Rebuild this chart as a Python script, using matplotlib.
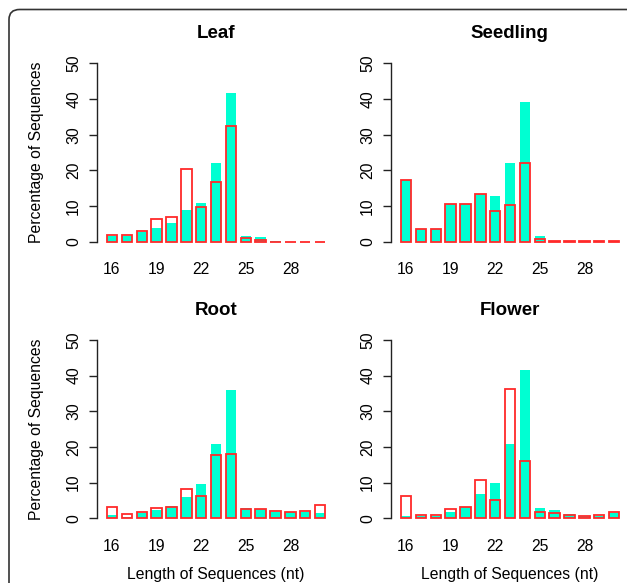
import matplotlib
matplotlib.use("Agg")
import matplotlib.pyplot as plt
from matplotlib.patches import FancyBboxPatch

plt.rcParams['font.family'] = ['Liberation Sans', 'DejaVu Sans']

lengths = list(range(16, 31))
tick_vals = [16, 19, 22, 25, 28]

leaf_cyan = [1.7, 1.7, 2.7, 3.9, 5.3, 8.9, 10.9, 22.2, 41.7, 1.6, 1.2, 0.1, 0.05, 0.05, 0.05]
leaf_red = [2.0, 1.9, 3.1, 6.4, 7.0, 20.3, 9.8, 16.8, 32.4, 0.9, 0.6, 0.05, 0.05, 0.05, 0.05]

seed_cyan = [17.2, 3.5, 3.5, 10.7, 10.6, 13.5, 12.8, 22.0, 39.3, 1.6, 0.1, 0.1, 0.1, 0.1, 0.1]
seed_red = [17.2, 3.5, 3.5, 10.7, 10.6, 13.5, 8.7, 10.3, 22.1, 0.65, 0.2, 0.1, 0.1, 0.1, 0.1]

root_cyan = [0.9, 0.5, 1.4, 2.3, 3.5, 5.9, 9.6, 20.7, 36.1, 2.9, 2.7, 1.8, 1.7, 1.7, 1.6]
root_red = [3.2, 1.1, 1.7, 2.8, 3.1, 8.1, 6.2, 17.8, 18.0, 2.5, 2.6, 2.1, 1.9, 2.1, 3.6]

flower_cyan = [0.65, 0.65, 0.65, 1.9, 3.1, 6.7, 9.9, 20.7, 41.6, 2.8, 2.4, 1.1, 0.75, 0.75, 1.6]
flower_red = [6.3, 0.9, 0.9, 2.6, 3.1, 10.8, 5.0, 36.3, 16.0, 1.7, 1.4, 0.9, 0.65, 0.9, 1.9]

panels = [
    ("Leaf", leaf_cyan, leaf_red),
    ("Seedling", seed_cyan, seed_red),
    ("Root", root_cyan, root_red),
    ("Flower", flower_cyan, flower_red),
]

W, H = 627, 583
fig = plt.figure(figsize=(W / 100, H / 100), dpi=100)

px_per_x = 14.87
px_per_y = 3.567
xlim = (14.96, 31.0)
ylim = (-1.0, 51.0)
ax_w = (xlim[1] - xlim[0]) * px_per_x
ax_h = (ylim[1] - ylim[0]) * px_per_y

lefts = [96.5, 390.5]
zeros = [241.7, 518.3]

cyan = '#00FFD2'
red = '#FF2A2A'
fs = 11.3

for i, (title, cv, rv) in enumerate(panels):
    r, c = divmod(i, 2)
    left_px = lefts[c]
    bottom_px = zeros[r] + (0 - ylim[0]) * px_per_y  # from top
    ax = fig.add_axes([left_px / W, 1 - bottom_px / H, ax_w / W, ax_h / H])
    ax.bar(lengths, cv, width=0.7, color=cyan, edgecolor='none', zorder=2)
    ax.bar(lengths, rv, width=0.7, facecolor='none', edgecolor=red, linewidth=1.3, zorder=3)
    ax.set_xlim(*xlim)
    ax.set_ylim(*ylim)
    for s in ['top', 'right', 'bottom']:
        ax.spines[s].set_visible(False)
    ax.spines['left'].set_bounds(0, 50)
    ax.spines['left'].set_linewidth(1.0)
    ax.spines['left'].set_color('#222222')
    ax.set_yticks([0, 10, 20, 30, 40, 50])
    ax.set_yticklabels(['0', '10', '20', '30', '40', '50'], rotation=90, va='center', fontsize=fs)
    ax.tick_params(axis='y', length=6, width=1.0, color='#222222', pad=5)
    ax.set_xticks(tick_vals)
    ax.set_xticklabels([str(t) for t in tick_vals], fontsize=fs)
    ax.tick_params(axis='x', length=0, pad=12)
    ax.set_title(title, fontsize=13.5, fontweight='bold', pad=15.5)
    if c == 0:
        ax.set_ylabel('Percentage of Sequences', fontsize=fs, labelpad=16)
    if r == 1:
        ax.set_xlabel('Length of Sequences (nt)', fontsize=fs, labelpad=10)

# rounded frame (top and left edges only)
frame = FancyBboxPatch((9 / W, -0.2), (625 - 9) / W + 0.2, (1 - 9.5 / H) + 0.2,
                       boxstyle='round,pad=0,rounding_size=0.017',
                       transform=fig.transFigure, facecolor='none',
                       edgecolor='#333333', linewidth=1.2, clip_on=True)
fig.patches.append(frame)

fig.savefig('out.png', dpi=100)
